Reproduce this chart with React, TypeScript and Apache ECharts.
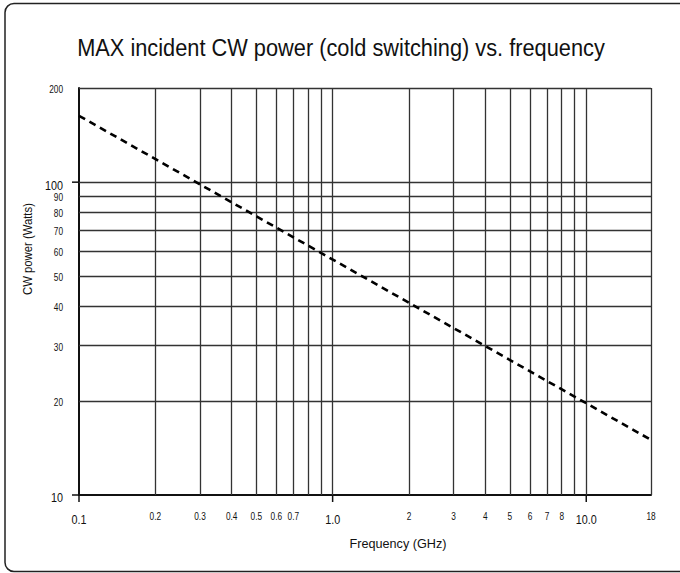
import React, { useEffect, useRef } from "react";
import * as echarts from "echarts";

// Data
const freqGHz = [0.1, 18];
const powerW = [163, 15];

// Grid lines
const xGridValues = [0.2, 0.3, 0.4, 0.5, 0.6, 0.7, 0.8, 0.9, 1, 2, 3, 4, 5, 6, 7, 8, 9, 10, 18];
const yGridValues = [20, 30, 40, 50, 60, 70, 80, 90, 100, 200];

// Tick labels
const xTickValues = [0.1, 0.2, 0.3, 0.4, 0.5, 0.6, 0.7, 1, 2, 3, 4, 5, 6, 7, 8, 10, 18];
const xTickLabels = ["0.1", "0.2", "0.3", "0.4", "0.5", "0.6", "0.7", "1.0", "2", "3", "4", "5", "6", "7", "8", "10.0", "18"];
const yTickValues = [10, 20, 30, 40, 50, 60, 70, 80, 90, 100, 200];
const yTickLabels = ["10", "20", "30", "40", "50", "60", "70", "80", "90", "100", "200"];

// Major (decade) ticks
const xMajor = [0.1, 1, 10];
const yMajor = [10, 100];

const TITLE = "MAX incident CW power (cold switching) vs. frequency";
const X_NAME = "Frequency (GHz)";
const Y_NAME = "CW power (Watts)";

const FAMILY = "'Liberation Sans', Arial, sans-serif";
const INK = "#111";
const GRID_COLOR = "#333";
const CONDENSE = 0.83;

function measure(text: string, font: string): number {
  const c = document.createElement("canvas");
  const ctx = c.getContext("2d");
  if (!ctx) return text.length * 10;
  ctx.font = font;
  return ctx.measureText(text).width;
}

export default function App() {
  const ref = useRef<HTMLDivElement>(null);

  useEffect(() => {
    if (!ref.current) return;
    const chart = echarts.init(ref.current, undefined, { renderer: "svg" });

    const xMark = xGridValues.map((v) => ({ xAxis: v }));
    const yMark = yGridValues.map((v) => ({ yAxis: v }));

    const option: any = {
      animation: false,
      backgroundColor: "#fff",
      grid: { left: 79, right: 29, top: 88, bottom: 78, containLabel: false },
      xAxis: {
        type: "log",
        logBase: 10,
        min: 0.1,
        max: 18,
        axisLine: { show: true, lineStyle: { color: INK, width: 2 } },
        axisTick: { show: false },
        axisLabel: { show: false },
        splitLine: { show: false },
      },
      yAxis: {
        type: "log",
        logBase: 10,
        min: 10,
        max: 200,
        axisLine: { show: true, lineStyle: { color: INK, width: 2 } },
        axisTick: { show: false },
        axisLabel: { show: false },
        splitLine: { show: false },
      },
      series: [
        {
          type: "line",
          data: [],
          z: 1,
          silent: true,
          markLine: {
            silent: true,
            symbol: ["none", "none"],
            animation: false,
            label: { show: false },
            lineStyle: { color: GRID_COLOR, width: 1.3, type: "solid" },
            data: [...xMark, ...yMark],
          },
        },
        {
          type: "line",
          z: 5,
          data: freqGHz.map((f, i) => [f, powerW[i]]),
          showSymbol: false,
          symbol: "none",
          lineStyle: { color: "#000", width: 2.6, type: [7, 5] },
        },
      ],
    };

    chart.setOption(option);

    const px = (x: number, y: number) => chart.convertToPixel({ gridIndex: 0 }, [x, y]) as number[];

    const text = (
      t: string,
      x: number,
      y: number,
      size: number,
      align: string,
      vAlign: string,
      scaleX: number,
      rotation = 0
    ) => ({
      type: "text",
      x,
      y,
      scaleX,
      rotation,
      silent: true,
      style: {
        text: t,
        font: `${size}px ${FAMILY}`,
        fill: INK,
        align,
        verticalAlign: vAlign,
      },
    });

    const g: any[] = [];

    // outer rounded frame
    g.push({
      type: "rect",
      shape: { x: 5, y: 3.5, width: 700, height: 568, r: 9 },
      style: { fill: "none", stroke: "#222", lineWidth: 1.5 },
      silent: true,
      z: -1,
    });

    // title and axis names, condensed to the reference widths
    const titleFont = `24px ${FAMILY}`;
    g.push(text(TITLE, 341, 48, 24, "center", "middle", 528 / measure(TITLE, titleFont)));
    const nameFont = `13.5px ${FAMILY}`;
    g.push(text(X_NAME, 398, 543, 13.5, "center", "middle", 97 / measure(X_NAME, nameFont)));
    g.push(text(Y_NAME, 28, 249, 13.5, "center", "middle", 92 / measure(Y_NAME, nameFont), Math.PI / 2));

    // x tick labels
    xTickValues.forEach((v, i) => {
      const p = px(v, 10);
      const big = xMajor.indexOf(v) >= 0;
      g.push(text(xTickLabels[i], p[0], p[1] + (big ? 25 : 21.5), big ? 13 : 10, "center", "middle", CONDENSE));
    });
    // y tick labels
    yTickValues.forEach((v, i) => {
      const p = px(0.1, v);
      const big = yMajor.indexOf(v) >= 0;
      g.push(text(yTickLabels[i], p[0] - 16, p[1] + (big ? 3 : 1.5), big ? 13 : 10, "right", "middle", CONDENSE));
    });

    // major ticks
    xMajor.forEach((v) => {
      const p = px(v, 10);
      g.push({
        type: "line",
        shape: { x1: p[0], y1: p[1], x2: p[0], y2: p[1] + 7 },
        style: { stroke: INK, lineWidth: 1.5 },
        silent: true,
      });
    });
    yMajor.forEach((v) => {
      const p = px(0.1, v);
      g.push({
        type: "line",
        shape: { x1: p[0] - 7, y1: p[1], x2: p[0], y2: p[1] },
        style: { stroke: INK, lineWidth: 1.5 },
        silent: true,
      });
    });

    chart.setOption({ graphic: g });

    return () => chart.dispose();
  }, []);

  return (
    <div
      ref={ref}
      style={{ position: "fixed", left: 0, top: 0, width: 680, height: 573 }}
    />
  );
}
